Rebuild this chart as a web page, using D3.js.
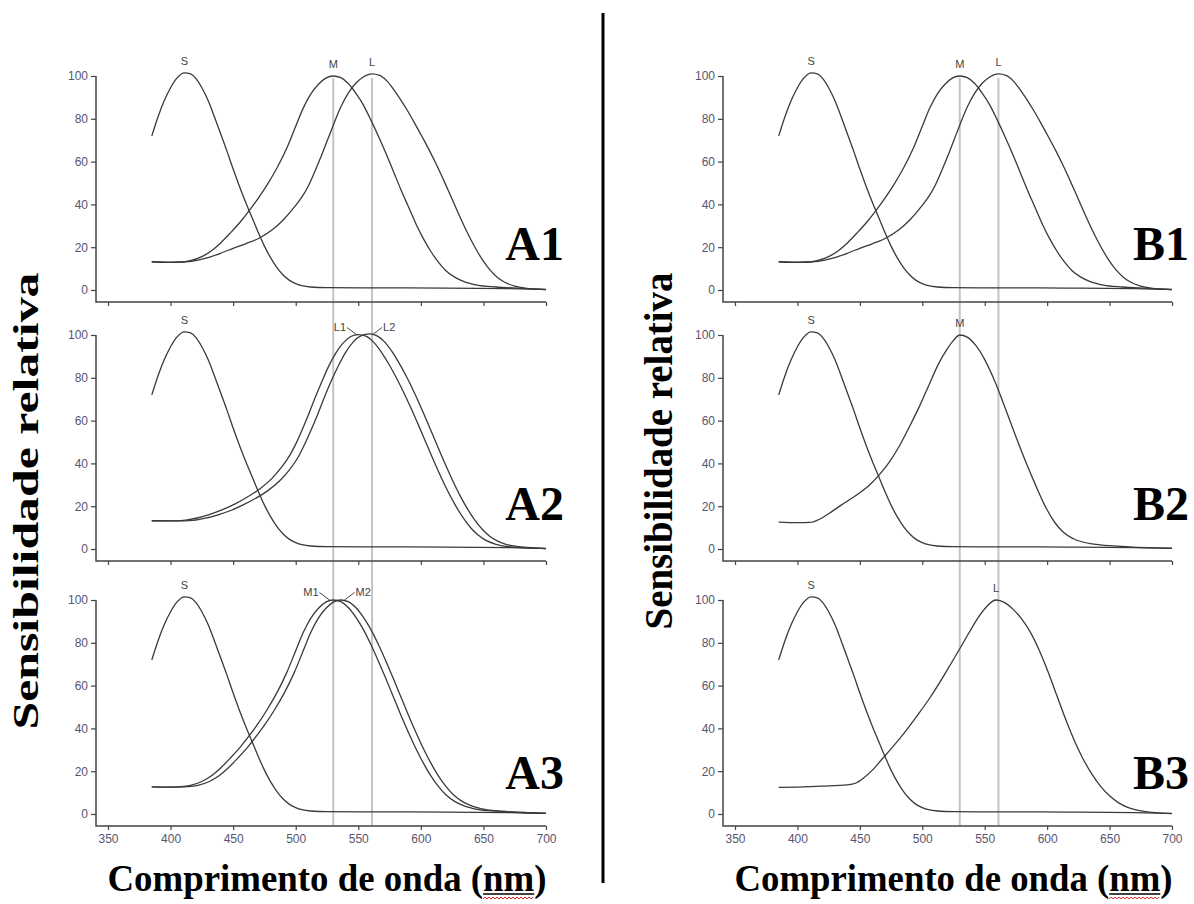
<!DOCTYPE html>
<html>
<head>
<meta charset="utf-8">
<script src="https://cdn.jsdelivr.net/npm/d3@7"></script>
<style>
    body { margin: 0; background: #fff; }
    svg { display: block; }
</style>
</head>
<body>
<svg id="chart" width="1194" height="904"></svg>
<script>
// sensibilidade relativa (%) por comprimento de onda (nm)
let sCurve = [[385,72],[390,81],[395,88.5],[400,94.5],[405,99],[411,101.5],[416,101],[420,99],[425,94.5],[430,88.5],
    [435,81],[440,73],[445,65],[450,56.5],[455,48.5],[460,41],[465,34],[470,27],[475,20.5],[480,15],[485,10.5],
    [490,7],[495,4.5],[500,3],[505,2],[512,1.4],[525,1.1],[560,1],[620,0.9],[670,0.6],[700,0.3]]

let mCurve = [[385,13.2],[395,12.9],[405,12.9],[415,13.6],[425,15.6],[433,18.5],[440,22],[448,26.8],[456,32],
    [463,37.2],[470,42.8],[477,49],[485,57],[493,66.5],[500,76.5],[506,85],[512,91.5],[518,96],[524,99],[530,100],
    [536,99.2],[542,96.5],[548,92],[554,86.5],[560,79.5],[566,72],[572,64],[578,55.5],[584,47],[590,39],[596,31],
    [602,24],[608,18],[614,13],[620,9],[627,6],[635,3.8],[645,2.3],[660,1.4],[680,0.8],[700,0.2]]

let lCurve = [[385,13.2],[400,13],[412,13.2],[422,14],[432,15.5],[441,17.4],[450,19.5],[460,21.6],[471,24.3],
    [481,28],[490,32.7],[499,38.8],[505,43.5],[510,48.5],[515,55],[520,62],[525,69.5],[530,77],[536,85.5],[542,92],
    [548,96.6],[554,99.5],[561,101],[567,100.3],[573,97.6],[578,93.9],[583,89.7],[589,84.1],[595,78],[601,71.6],
    [607,65],[613,57.9],[619,50.3],[625,42.4],[631,34.5],[637,27],[643,20.2],[649,14.3],[655,9.5],[661,6],
    [667,3.6],[675,1.8],[685,0.8],[700,0.2]]

let l1Curve = [[385,13.2],[400,13.1],[412,13.5],[422,14.6],[432,16.3],[442,18.5],[452,21.2],[462,24.5],[472,28.4],
    [481,33],[489,38.5],[495,43.5],[500,49],[505,55.5],[510,62.5],[515,70],[520,77],[526,85],[532,91.5],[538,96.3],
    [544,99.3],[550,100.2],[556,99.5],[562,96.8],[568,92.4],[574,86.8],[580,80.5],[586,73.5],[592,66],[598,58],
    [604,49.8],[610,41.6],[616,33.8],[622,26.5],[628,20],[634,14.4],[640,9.8],[646,6.4],[652,4],[660,2.2],
    [670,1.1],[685,0.5],[700,0.2]]

let l2Curve = [[385,13.2],[405,13.1],[418,13.4],[428,14.4],[438,16],[448,18],[458,20.6],[468,23.7],[478,27.4],
    [487,31.8],[495,37],[502,43],[508,50],[513,56.5],[518,63.5],[523,71],[528,78],[534,85.5],[540,92],[546,96.8],
    [552,99.6],[559,100.5],[565,99.6],[571,96.8],[577,92.2],[583,86.5],[589,80],[595,72.8],[601,65],[607,56.8],
    [613,48.5],[619,40.3],[625,32.5],[631,25.3],[637,19],[643,13.6],[649,9.2],[655,6],[661,3.8],[668,2.2],
    [678,1.1],[690,0.5],[700,0.2]]

let m1Curve = [[385,12.7],[395,12.6],[405,12.7],[415,13.3],[425,15.2],[433,18],[440,21.5],[448,26.3],[456,31.5],
    [463,36.7],[470,42.3],[477,48.6],[485,56.7],[493,66.3],[500,76.3],[506,84.8],[512,91.4],[518,96],[524,99],
    [530,100],[536,99.2],[542,96.5],[548,92],[554,86.3],[560,79.3],[566,71.5],[572,63.3],[578,54.8],[584,46.3],
    [590,38.2],[596,30.6],[602,23.8],[608,17.8],[614,12.9],[620,9],[627,5.9],[635,3.7],[645,2.2],[660,1.3],
    [680,0.7],[700,0.3]]

let m2Curve = [[385,12.7],[400,12.6],[411,12.7],[421,13.3],[431,15.2],[439,18],[446,21.5],[454,26.3],[462,31.5],
    [469,36.7],[476,42.3],[483,48.6],[491,56.7],[499,66.3],[506,76.3],[512,84.8],[518,91.4],[524,96],[530,99],
    [536,100],[542,99.2],[548,96.5],[554,92],[560,86.3],[566,79.3],[572,71.5],[578,63.3],[584,54.8],[590,46.3],
    [596,38.2],[602,30.6],[608,23.8],[614,17.8],[620,12.9],[626,9],[633,5.9],[641,3.7],[651,2.2],[665,1.3],
    [682,0.7],[700,0.3]]

let mCurveB2 = [[385,12.6],[400,12.3],[410,12.4],[418,14],[425,16.5],[435,20.5],[448,25.5],[458,30],[466,35],
    [474,41],[482,48.5],[490,57.5],[498,67],[506,77.5],[513,86.5],[520,93.5],[525,97.5],[530,100],[536,99],
    [543,95],[550,88.5],[558,78.5],[566,66.5],[575,52.5],[583,40.5],[591,29.5],[598,20.5],[606,12.5],[613,7.8],
    [621,4.8],[636,2.4],[666,1],[700,0.4]]

let lCurveB3 = [[385,12.4],[400,12.6],[420,13],[440,13.6],[447,14.5],[453,16.8],[460,20.5],[468,25.8],[477,31.8],
    [487,39],[497,46.8],[506,54.2],[514,61.5],[522,69.3],[530,77.2],[538,85.3],[545,92],[552,97.2],[559,100],
    [566,98.8],[573,95.5],[580,90.8],[587,84.5],[594,76],[601,66],[608,55],[615,44],[622,34],[629,25.5],
    [636,18.5],[643,12.8],[650,8.5],[657,5.3],[664,3.2],[672,1.8],[684,0.8],[700,0.2]]

let xTicks = [350, 400, 450, 500, 550, 600, 650, 700]
let yTicks = [0, 20, 40, 60, 80, 100]
let refLines = [530, 561]   // linhas cinzentas verticais (M e L)

let panelNames = ['A1', 'A2', 'A3', 'B1', 'B2', 'B3']
let panelCurves = [
    [sCurve, mCurve, lCurve],
    [sCurve, l1Curve, l2Curve],
    [sCurve, m1Curve, m2Curve],
    [sCurve, mCurve, lCurve],
    [sCurve, mCurveB2],
    [sCurve, lCurveB3]
]
// rótulos dos picos: texto, nm, valor, lado (0 = centrado, -1/1 = com linha de chamada)
let panelLabels = [
    [['S', 411, 101.5, 0], ['M', 530, 100, 0], ['L', 561, 101, 0]],
    [['S', 411, 101.5, 0], ['L1', 549, 100, -1], ['L2', 561, 100, 1]],
    [['S', 411, 101.5, 0], ['M1', 527, 100, -1], ['M2', 539, 100, 1]],
    [['S', 411, 101.5, 0], ['M', 530, 100, 0], ['L', 561, 101, 0]],
    [['S', 411, 101.5, 0], ['M', 530, 100, 0]],
    [['S', 411, 101.5, 0], ['L', 559, 100, 0]]
]

let svg = d3.select('#chart')
let colX = [[108, 546], [735, 1172]]
let rowY = [[290, 76], [549, 335], [814, 600]]
let labelBase = [260, 520, 789]
let tickFont = '"Liberation Sans", Arial, sans-serif'
let serif = '"Liberation Serif", "Times New Roman", serif'

function drawPanel(p) {
    let col = Math.floor(p / 3), row = p % 3
    let x = d3.scaleLinear().domain([350, 700]).range(colX[col])
    let y = d3.scaleLinear().domain([0, 100]).range(rowY[row])
    let axisX = x(350) - 12
    let axisY = y(0) + 12
    let g = svg.append('g')

    // eixo Y
    let ya = g.append('g')
        .attr('transform', 'translate(' + axisX + ',0)')
        .call(d3.axisLeft(y).tickValues(yTicks).tickSize(5).tickPadding(3))
    ya.select('.domain').remove()
    ya.selectAll('text').style('font-family', tickFont).style('font-size', '12px').attr('fill', '#585470')
    ya.selectAll('line').attr('stroke', '#444').attr('stroke-width', 1.2)

    // eixo X
    let xa = g.append('g')
        .attr('transform', 'translate(0,' + axisY + ')')
        .call(d3.axisBottom(x).tickValues(xTicks).tickSize(4).tickPadding(4)
            .tickFormat(row == 2 ? d3.format('d') : ''))
    xa.select('.domain').remove()
    xa.selectAll('text').style('font-family', tickFont).style('font-size', '12px').attr('fill', '#585470')
    xa.selectAll('line').attr('stroke', '#444').attr('stroke-width', 1.2)

    g.append('path')
        .attr('d', 'M' + axisX + ',' + y(100) + 'V' + axisY + 'H' + x(700))
        .attr('fill', 'none').attr('stroke', '#444').attr('stroke-width', 1.5)

    let line = d3.line()
        .x(function (d) { return x(d[0]) })
        .y(function (d) { return y(d[1]) })
        .curve(d3.curveMonotoneX)

    g.selectAll('path.curve')
        .data(panelCurves[p])
        .enter()
        .append('path')
        .attr('class', 'curve')
        .attr('d', line)
        .attr('fill', 'none')
        .attr('stroke', '#3a3a3a')
        .attr('stroke-width', 1.3)

    panelLabels[p].forEach(function (lb) {
        let px = x(lb[1]), py = y(lb[2])
        let t = g.append('text')
            .style('font-family', tickFont).style('font-size', '11px')
            .attr('fill', '#444')
            .text(lb[0])
        if (lb[3] == 0) {
            t.attr('x', px).attr('y', py - 8).attr('text-anchor', 'middle')
        } else {
            let sx = px + lb[3] * 10, sy = py - 7.5
            g.append('line')
                .attr('x1', sx).attr('y1', sy).attr('x2', px).attr('y2', py)
                .attr('stroke', '#444').attr('stroke-width', 1)
            t.attr('x', sx + lb[3] * 1).attr('y', sy + 3)
                .attr('text-anchor', lb[3] < 0 ? 'end' : 'start')
        }
    })

    svg.append('text')
        .attr('x', col == 0 ? 564 : 1189)
        .attr('y', labelBase[row])
        .attr('text-anchor', 'end')
        .style('font-family', serif).style('font-size', '48px').style('font-weight', 'bold')
        .text(panelNames[p])
}

// linhas de referência atrás das curvas
colX.forEach(function (r) {
    let x = d3.scaleLinear().domain([350, 700]).range(r)
    svg.selectAll(null)
        .data(refLines)
        .enter()
        .append('line')
        .attr('x1', function (d) { return x(d) })
        .attr('x2', function (d) { return x(d) })
        .attr('y1', rowY[0][1] + 2)
        .attr('y2', rowY[2][0] + 12)
        .attr('stroke', '#c4c4c4')
        .attr('stroke-width', 2)
})

for (let p = 0; p < 6; p++) drawPanel(p)

// divisória
svg.append('line')
    .attr('x1', 603).attr('x2', 603).attr('y1', 13).attr('y2', 883)
    .attr('stroke', '#000').attr('stroke-width', 3)

// títulos dos eixos Y
let yTitles = [[38, 501, 457, 36], [672, 451, 357, 40]]
yTitles.forEach(function (t) {
    svg.append('text')
        .attr('transform', 'translate(' + t[0] + ',' + t[1] + ') rotate(-90)')
        .attr('text-anchor', 'middle')
        .attr('textLength', t[2])
        .attr('lengthAdjust', 'spacingAndGlyphs')
        .style('font-family', serif).style('font-size', t[3] + 'px').style('font-weight', 'bold')
        .text('Sensibilidade relativa')
})

// títulos dos eixos X, com o sublinhado de "nm"
colX.forEach(function (r) {
    let cx = (r[0] + r[1]) / 2
    let t = svg.append('text')
        .attr('x', cx).attr('y', 891)
        .attr('text-anchor', 'middle')
        .attr('textLength', r[1] - r[0] + 1)
        .attr('lengthAdjust', 'spacingAndGlyphs')
        .style('font-family', serif).style('font-size', '38px').style('font-weight', 'bold')
        .text('Comprimento de onda (nm)')
    let node = t.node()
    let i = node.textContent.indexOf('nm')
    let x0 = node.getStartPositionOfChar(i).x
    let x1 = node.getEndPositionOfChar(i + 1).x
    svg.append('line')
        .attr('x1', x0).attr('x2', x1).attr('y1', 894).attr('y2', 894)
        .attr('stroke', '#000').attr('stroke-width', 1.5)
    let pts = d3.range(x0, x1, 2).map(function (xx, k) { return [xx, k % 2 ? 897 : 899] })
    svg.append('path')
        .attr('d', d3.line()(pts))
        .attr('fill', 'none').attr('stroke', '#d22').attr('stroke-width', 1)
})
</script>
</body>
</html>
